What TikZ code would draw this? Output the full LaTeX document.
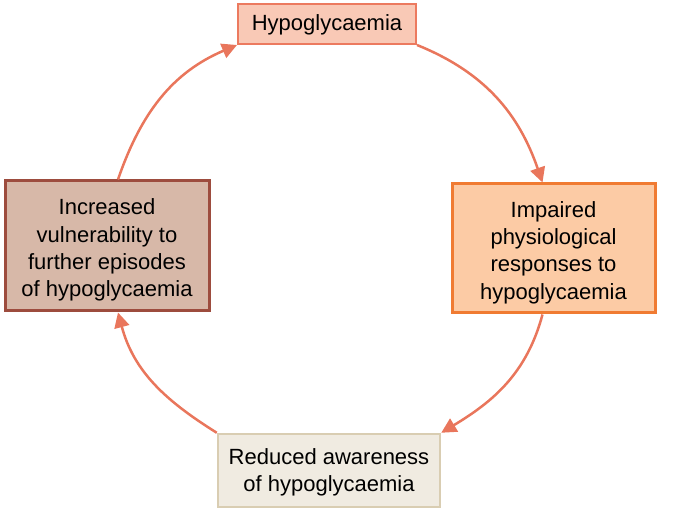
\documentclass[tikz,border=0pt]{standalone}
\usepackage{fontspec}
\setmainfont{Liberation Sans}
\usetikzlibrary{arrows.meta}
\definecolor{arrowc}{HTML}{E9765C}
\definecolor{topfill}{HTML}{F9C9B6}
\definecolor{topdraw}{HTML}{EC7A5F}
\definecolor{leftfill}{HTML}{D7B8A8}
\definecolor{leftdraw}{HTML}{9D4C3E}
\definecolor{rightfill}{HTML}{FCCBA5}
\definecolor{rightdraw}{HTML}{F07B32}
\definecolor{botfill}{HTML}{F0EBE1}
\definecolor{botdraw}{HTML}{D9CDB2}
\tikzset{
  box/.style={rectangle, inner sep=0pt},
  lbl/.style={inner sep=0pt, align=center, font=\fontsize{22}{27.3}\selectfont, text=black},
  cyc/.style={draw=arrowc, line width=2.5pt, -{Triangle[length=15pt,width=15pt]}}
}
\begin{document}
\begin{tikzpicture}[x=1pt,y=1pt]
\useasboundingbox (0,0) rectangle (680,509);
\node[box, fill=topfill, draw=topdraw, line width=2pt, minimum width=178pt, minimum height=40pt] (top) at (327,485) {};
\node[lbl] (topt) at ([yshift=-1pt]top.center) {Hypoglycaemia};
\node[box, fill=rightfill, draw=rightdraw, line width=3pt, minimum width=203pt, minimum height=129pt] (right) at (553.5,260.5) {};
\node[lbl] (rightt) at ([yshift=-4pt]right.center) {Impaired\\physiological\\responses to\\hypoglycaemia};
\node[box, fill=leftfill, draw=leftdraw, line width=3pt, minimum width=204pt, minimum height=130pt] (left) at (107,263) {};
\node[lbl] (leftt) at ([yshift=-4pt]left.center) {Increased\\vulnerability to\\further episodes\\of hypoglycaemia};
\node[box, fill=botfill, draw=botdraw, line width=2.5pt, minimum width=222pt, minimum height=73pt] (bot) at (329,38.5) {};
\node[lbl] (bott) at ([yshift=-2pt]bot.center) {Reduced awareness\\of hypoglycaemia};
\draw[cyc] (top.south east) to[out=-22, in=109] ([xshift=-11pt]right.north);
\draw[cyc] ([xshift=-11pt]right.south) to[out=-105, in=31] (bot.north east);
\draw[cyc] (bot.north west) to[out=148, in=-75] ([xshift=11pt]left.south);
\draw[cyc] ([xshift=11pt]left.north) to[out=71, in=203] (top.south west);
\end{tikzpicture}
\end{document}
